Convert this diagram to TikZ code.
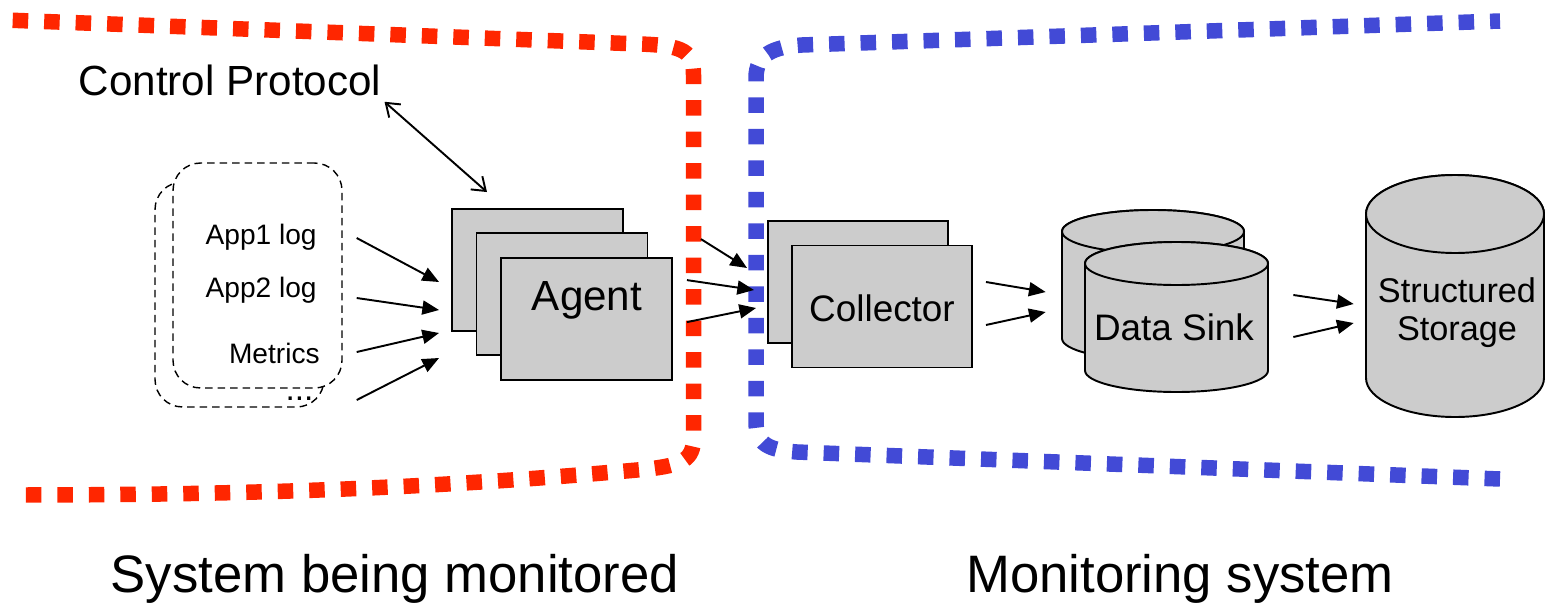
\documentclass[tikz,border=0pt]{standalone}
\usepackage{fontspec}
\setmainfont{Liberation Sans}
\usetikzlibrary{arrows.meta,calc}

\definecolor{sinkgray}{RGB}{204,204,204}
\definecolor{watchred}{RGB}{255,38,0}
\definecolor{watchblue}{RGB}{66,74,214}

% drum: name, cx, cy of top rim, x radius, y radius, body height
\newcommand{\drum}[6]{%
  \path[boxline] ({#2-#4},#3) -- ({#2-#4},{#3+#6})
    arc[start angle=180, end angle=0, x radius=#4, y radius=#5]
    -- ({#2+#4},#3)
    arc[start angle=0, end angle=-180, x radius=#4, y radius=#5] -- cycle;
  \path[boxline] (#2,#3) ellipse[x radius=#4, y radius=#5];
  \node[inner sep=0pt, minimum width={2*#4*0.02cm}, minimum height={(#6+2*#5)*0.02cm}] (#1) at (#2,{#3+#6/2}) {};}

\begin{document}
\begin{tikzpicture}[x=0.02cm, y=-0.02cm,
  procbox/.style={draw, fill=sinkgray, line width=1.1pt, inner sep=0pt, minimum height=2.44cm},
  logpage/.style={draw, dash pattern=on 0.15cm off 0.1cm, line width=0.8pt, rounded corners=0.55cm,
    minimum width=3.38cm, minimum height=4.5cm, inner sep=0pt},
  boxline/.style={draw, fill=sinkgray, line width=1.1pt},
  lbl/.style={inner sep=0pt, anchor=base},
  flow/.style={line width=1.1pt, -{Triangle[length=9.5pt,width=8pt]}},
  fence/.style={line width=0.31cm, dash pattern=on 0.31cm off 0.32cm}]

\useasboundingbox (0,0) rectangle (1545,602);

% the two boundaries
\draw[fence, watchred] (12.7,20.3) -- (640,44) .. controls (685,45.5) and (693.5,52) .. (693.5,75)
  -- (693.5,438) .. controls (693.5,460) and (682,465) .. (648,469)
  .. controls (420,490) and (220,495) .. (12.7,495);
\draw[fence, watchblue] (1500,479) -- (797,452) .. controls (768,450) and (756,444) .. (756,422)
  -- (756,78) .. controls (756,55) and (772,47) .. (802,45) -- (1500,21);

% sources
\node[logpage] (logback) at (239.5,294.5) {};
\node[logpage, fill=white] (logfront) at (257.5,275.5) {};
\node[lbl, anchor=base east, font=\fontsize{16}{19}\selectfont] (app1) at (317,244) {App1 log};
\node[lbl, anchor=base east, font=\fontsize{16}{19}\selectfont] (app2) at (317,297) {App2 log};
\node[lbl, anchor=base east, font=\fontsize{16}{19}\selectfont] (metrics) at (320,363) {Metrics};
\node[lbl, font=\fontsize{19}{22}\selectfont] (more) at (299.5,400) {...};

% agents
\foreach \i in {0,1,2}
  \node[procbox, minimum width=3.42cm] (agent\i) at (537.5+24.5*\i, 270+24.3*\i) {};
\node[lbl, font=\fontsize{24}{28}\selectfont] (agentlbl) at (587,310) {Agent};

% collectors
\foreach \i in {0,1}
  \node[procbox, minimum width=3.6cm] (coll\i) at (858+24*\i, 282+24.5*\i) {};
\node[lbl, font=\fontsize{21}{25}\selectfont] (colllbl) at (882,321) {Collector};

% sinks and storage
\drum{sink0}{1153}{231.5}{91}{21.5}{107}
\drum{sink1}{1176.5}{263.5}{91.5}{21.5}{107}
\drum{store}{1455}{214}{89}{39}{164}
\node[lbl, font=\fontsize{21}{25}\selectfont] (sinklbl) at (1174,340) {Data Sink};
\node[lbl, font=\fontsize{19.5}{23}\selectfont] (storelbl1) at (1457,302) {Structured};
\node[lbl, font=\fontsize{19.5}{23}\selectfont] (storelbl2) at (1457,340) {Storage};

% control
\node[lbl, font=\fontsize{24}{28}\selectfont] (ctrl) at (230,95) {Control Protocol};
\draw[line width=1.1pt, {Straight Barb[length=7pt,width=10pt]}-{Straight Barb[length=7pt,width=10pt]}]
  ($(ctrl.south east)+(3,6)$) -- ($(agent0.north)+(-50.5,-16)$);

% data flow
\foreach \a/\b in {-37.5/12, 22.5/40, 76.5/63, 124.5/88}
  \draw[flow] ($(logfront.east)+(14,\a)$) -- ($(agent0.west)+(-12,\b)$);
\foreach \s/\a/\t/\b in {28/-79.5/-20/-14, 14/-38.5/-13/8, 14/3.5/-11/26}
  \draw[flow] ($(agent2.east)+(\s,\a)$) -- ($(coll0.west)+(\t,\b)$);
\foreach \a/\b in {-24.5/7, 18.5/27}
  \draw[flow] ($(coll1.east)+(13,\a)$) -- ($(sink0.west)+(-16,\b)$);
\foreach \a/\b in {-22/8, 20/27}
  \draw[flow] ($(sink1.east)+(25,\a)$) -- ($(store.west)+(-12,\b)$);

% captions
\node[lbl, font=\fontsize{30}{36}\selectfont] (leftcap) at (395,592) {System being monitored};
\node[lbl, font=\fontsize{30}{36}\selectfont] (rightcap) at (1180,592) {Monitoring system};
\end{tikzpicture}
\end{document}
